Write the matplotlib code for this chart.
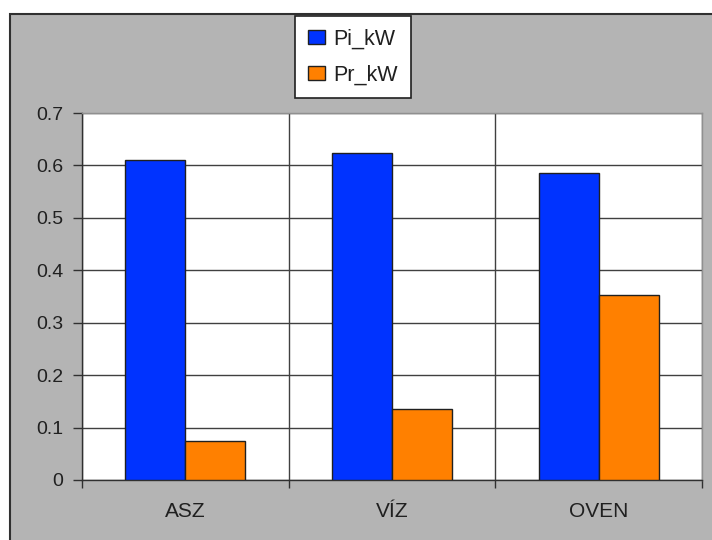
import numpy as np
import matplotlib
matplotlib.use("Agg")
import matplotlib.pyplot as plt
from matplotlib.patches import Rectangle

plt.rcParams['font.family'] = ['Liberation Sans', 'DejaVu Sans']

# Data
categories = ["ASZ", "VÍZ", "OVEN"]
pi_kw = [0.61, 0.624, 0.586]
pr_kw = [0.074, 0.135, 0.353]
series_names = ["Pi_kW", "Pr_kW"]
yticks = [0, 0.1, 0.2, 0.3, 0.4, 0.5, 0.6, 0.7]

blue = "#0033FF"
orange = "#FF8000"
gray = "#B4B4B4"

fig = plt.figure(figsize=(7.12, 5.4), dpi=100, facecolor="white")

# Gray chart area with dark border
W, H = 712, 540
bg = Rectangle((10 / W, -0.01), 1.0, 1 - 14 / H + 0.01, transform=fig.transFigure,
               facecolor=gray, edgecolor="#303030", linewidth=1.5, zorder=-10)
fig.add_artist(bg)

ax = fig.add_axes([82 / W, 60 / H, (702 - 82) / W, (480 - 113) / H])
ax.set_facecolor("white")
ax.set_zorder(1)

x = np.arange(len(categories))
width = 0.29
b1 = ax.bar(x - width / 2, pi_kw, width, color=blue, edgecolor="#202020", linewidth=1, zorder=3, label=series_names[0])
b2 = ax.bar(x + width / 2, pr_kw, width, color=orange, edgecolor="#202020", linewidth=1, zorder=3, label=series_names[1])

ax.set_xlim(-0.5, len(categories) - 0.5)
ax.set_ylim(0, 0.7)
ax.set_yticks(yticks)
ax.set_yticklabels([f"{v:g}" for v in yticks], fontsize=14, color="#202020")

# category labels centered, ticks between categories
ax.set_xticks(x)
ax.set_xticklabels(categories, fontsize=15, color="#202020")
ax.tick_params(axis="x", which="major", length=0, pad=16)
ax.set_xticks(np.arange(-0.5, len(categories)), minor=True)
ax.tick_params(axis="x", which="minor", length=6, width=1, color="#303030")
ax.tick_params(axis="y", length=6.5, width=1, color="#303030", pad=7)

ax.grid(axis="y", color="#404040", linewidth=1, zorder=1)
ax.grid(axis="x", which="minor", color="#404040", linewidth=1, zorder=1)
ax.set_axisbelow(True)

for side in ["top", "right"]:
    ax.spines[side].set_color("#909090")
    ax.spines[side].set_linewidth(1)
for side in ["left", "bottom"]:
    ax.spines[side].set_color("#303030")
    ax.spines[side].set_linewidth(1)

leg = fig.legend(handles=[b1, b2], labels=series_names, loc="center",
                 bbox_to_anchor=(353 / W, 1 - 57 / H), fontsize=15.5,
                 frameon=True, fancybox=False, framealpha=1, facecolor="white",
                 handlelength=0.8, handleheight=0.65,
                 handletextpad=0.37, borderpad=0.6, labelspacing=0.68, borderaxespad=0)
leg.get_frame().set_edgecolor("#202020")
leg.get_frame().set_linewidth(1.2)
for t in leg.get_texts():
    t.set_color("#202020")

fig.savefig("out.png", dpi=100, facecolor="white")
